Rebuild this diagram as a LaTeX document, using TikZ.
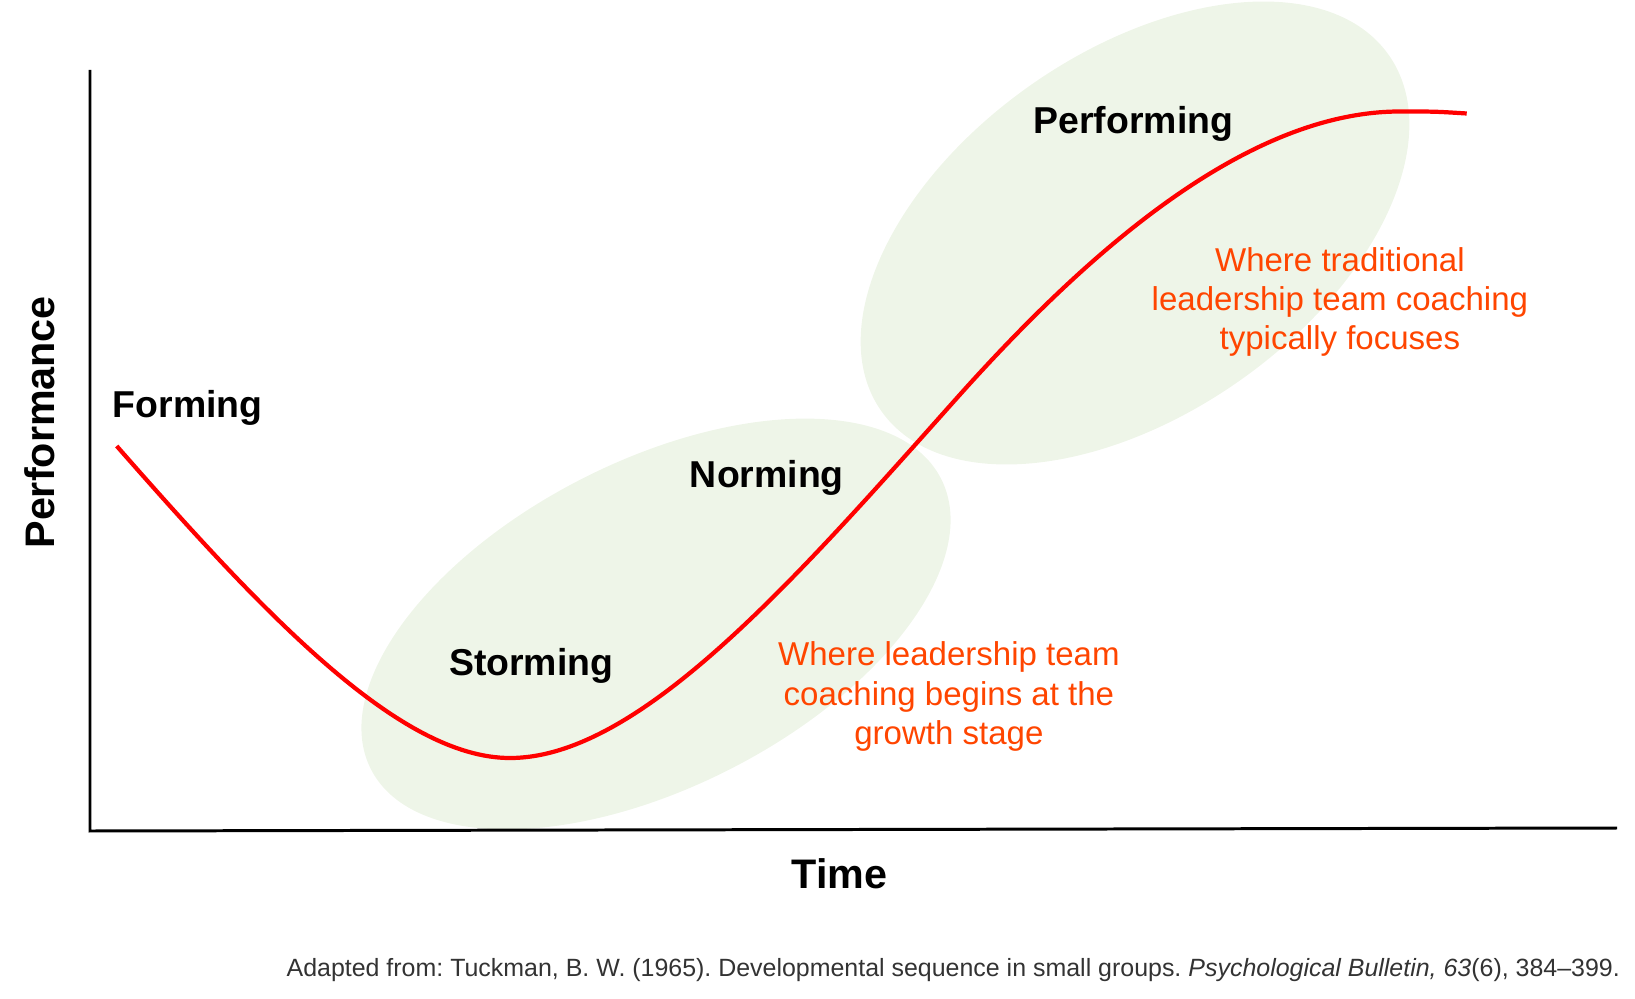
\documentclass[tikz,border=0pt]{standalone}
\usepackage{fontspec}
\setmainfont{Liberation Sans}
\usetikzlibrary{shapes.geometric}
\definecolor{zonegreen}{HTML}{EEF5E8}
\definecolor{noteorange}{HTML}{FF4500}
\definecolor{footgray}{HTML}{333333}
\tikzset{
  stagezone/.style={ellipse, fill=zonegreen, inner sep=0pt},
  stagelabel/.style={font=\fontsize{21.3}{25}\selectfont\bfseries},
  axislabel/.style={font=\fontsize{23.5}{28}\selectfont\bfseries},
  notetext/.style={text=noteorange, align=center, font=\fontsize{18.8}{22.3}\selectfont},
  curveline/.style={red, line width=2.4pt, line cap=butt},
  axisline/.style={black, line width=1.7pt}
}
\begin{document}
\frenchspacing
\begin{tikzpicture}[x=0.02cm, y=-0.02cm]
  \useasboundingbox (0,0) rectangle (1635,999);
  \node[stagezone, minimum width=12.8cm, minimum height=6.52cm, rotate=27] (growthzone) at (656,624) {};
  \node[stagezone, minimum width=12.4cm, minimum height=7.24cm, rotate=35] (peakzone) at (1135,233) {};

  \coordinate (ytop) at (90,70);
  \coordinate (origin) at (90,831);
  \coordinate (xend) at (1617,828);
  \draw[axisline] (ytop) -- (origin) -- (xend);

  % performance curve
  \draw[curveline] (116.7,446)
    .. controls (266.7,617) and (400,758) .. (510,758)
    .. controls (640,758) and (796,578.2) .. (956,399)
    .. controls (1076,264.6) and (1240,111.5) .. (1400,111.5)
    .. controls (1435,111.5) .. (1466.7,113.5);

  \node[stagelabel] (forming) at (187.7,408) {Forming};
  \node[stagelabel] (storming) at (531.2,666) {Storming};
  \node[stagelabel] (norming) at (766.9,477.5) {Norming};
  \node[stagelabel] (performing) at (1133.4,124) {Performing};

  \node[notetext] (peaknote) at (1339.9,302) {Where traditional\\leadership team coaching\\typically focuses};
  \node[notetext] (growthnote) at (948.9,696.5) {Where leadership team\\coaching begins at the\\growth stage};

  \node[axislabel] (timelabel) at (839.4,873.8) {Time};
  \node[axislabel, rotate=90] (perflabel) at (39.6,422.3) {Performance};

  \node[text=footgray, anchor=east, font=\fontsize{14.2}{17}\selectfont] (source) at (1626,969.7)
    {Adapted from: Tuckman, B. W. (1965). Developmental sequence in small groups. \textit{Psychological Bulletin, 63}(6), 384–399.};
\end{tikzpicture}
\end{document}
